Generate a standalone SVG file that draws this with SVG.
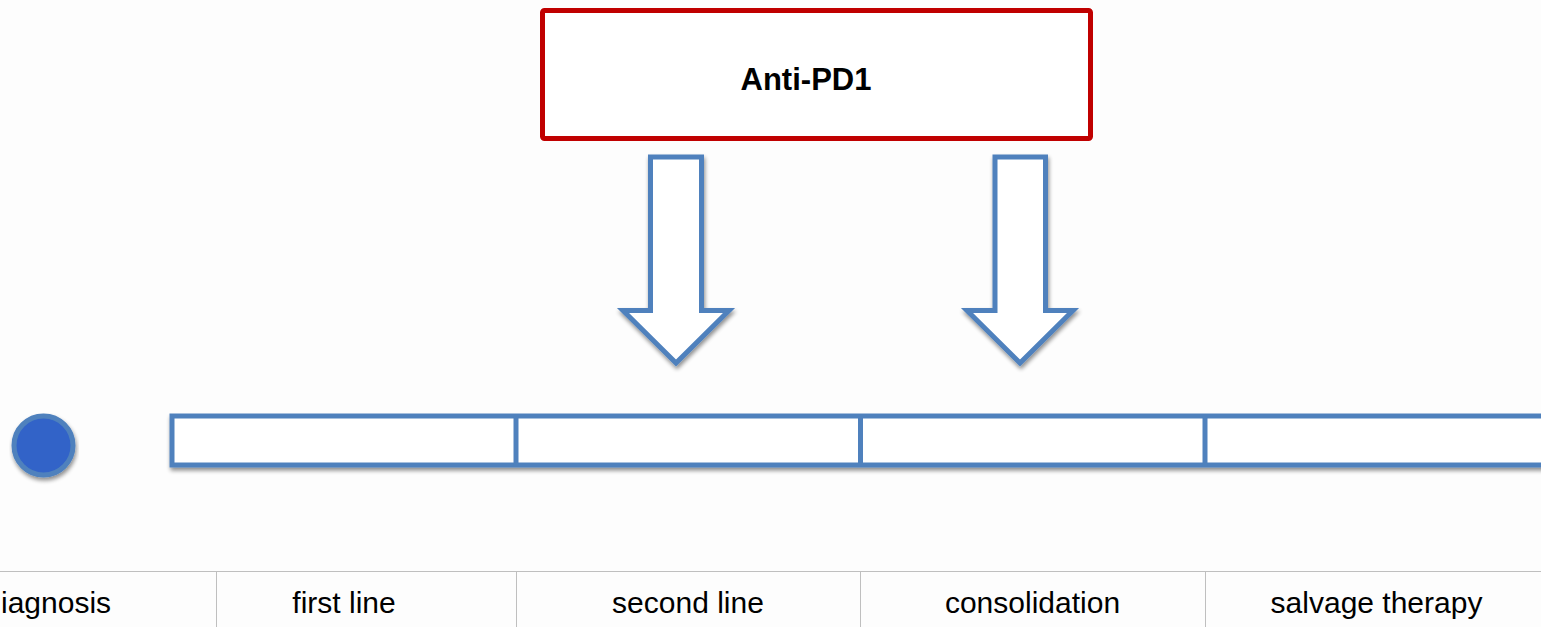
<svg xmlns="http://www.w3.org/2000/svg" width="1541" height="627" viewBox="0 0 1541 627">
  <defs>
    <filter id="shadow" x="-10%" y="-10%" width="120%" height="130%">
      <feGaussianBlur in="SourceAlpha" stdDeviation="2.2"/>
      <feOffset dx="1" dy="3" result="off"/>
      <feComponentTransfer><feFuncA type="linear" slope="0.45"/></feComponentTransfer>
      <feMerge><feMergeNode/><feMergeNode in="SourceGraphic"/></feMerge>
    </filter>
  </defs>
  <style>
    .blue { fill: #ffffff; stroke: #4F81BD; stroke-width: 5; stroke-linejoin: miter; }
    .grid { stroke: #BFBFBF; stroke-width: 1; fill: none; }
    .lbl { font-family: "Liberation Sans", Arial, sans-serif; font-size: 30px; fill: #000000; text-anchor: middle; }
    .title { font-family: "Liberation Sans", Arial, sans-serif; font-size: 31px; font-weight: bold; fill: #000000; text-anchor: middle; }
  </style>

  <rect x="0" y="0" width="1541" height="627" fill="#FDFDFD"/>

  <!-- therapy box -->
  <g id="anti-pd1">
    <rect x="542.5" y="10.5" width="548" height="128" rx="2" fill="#ffffff" stroke="#C00000" stroke-width="5"/>
    <text class="title" x="806" y="90">Anti-PD1</text>
  </g>

  <!-- block arrows pointing onto the timeline -->
  <g id="connectors">
    <polygon id="arrow-second-line" class="blue" filter="url(#shadow)" points="650.5,157 701.5,157 701.5,310.5 729,310.5 676,363 623,310.5 650.5,310.5"/>
    <polygon id="arrow-consolidation" class="blue" filter="url(#shadow)" points="995,157 1045.5,157 1045.5,310.5 1073,310.5 1020,363 967,310.5 995,310.5"/>
  </g>

  <!-- diagnosis marker -->
  <g id="diagnosis-dot">
    <circle cx="43.5" cy="445.5" r="29.5" fill="#3264C8" stroke="#4F81BD" stroke-width="5" filter="url(#shadow)"/>
  </g>

  <!-- timeline bar -->
  <g id="timeline" filter="url(#shadow)">
    <rect class="blue" x="172" y="416" width="1380" height="49"/>
    <line x1="516" y1="416" x2="516" y2="466" stroke="#4F81BD" stroke-width="5"/>
    <line x1="860.5" y1="416" x2="860.5" y2="466" stroke="#4F81BD" stroke-width="5"/>
    <line x1="1205" y1="416" x2="1205" y2="466" stroke="#4F81BD" stroke-width="5"/>
  </g>

  <!-- phase table -->
  <g id="phase-table">
    <line class="grid" x1="0" y1="571.5" x2="1541" y2="571.5"/>
    <line class="grid" x1="216.5" y1="571.5" x2="216.5" y2="627"/>
    <line class="grid" x1="516.5" y1="571.5" x2="516.5" y2="627"/>
    <line class="grid" x1="860.5" y1="571.5" x2="860.5" y2="627"/>
    <line class="grid" x1="1205.5" y1="571.5" x2="1205.5" y2="627"/>
  </g>
  <g id="label-diagnosis"><text class="lbl" x="1" y="613" style="text-anchor:start">iagnosis</text></g>
  <g id="label-first-line"><text class="lbl" x="344" y="613">first line</text></g>
  <g id="label-second-line"><text class="lbl" x="688" y="613">second line</text></g>
  <g id="label-consolidation"><text class="lbl" x="1032.5" y="613">consolidation</text></g>
  <g id="label-salvage"><text class="lbl" x="1376.5" y="613">salvage therapy</text></g>
</svg>
